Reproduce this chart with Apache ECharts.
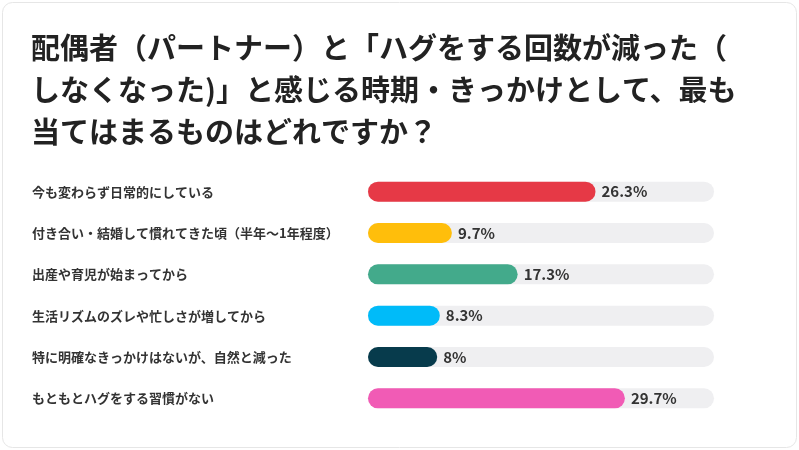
<!DOCTYPE html>
<html>
<head>
<meta charset="utf-8">
<script src="https://cdn.jsdelivr.net/npm/echarts@6/dist/echarts.min.js"></script>
<style>
  html, body { margin: 0; padding: 0; background: #fff; }
  #chart { width: 799px; height: 450px; }
</style>
</head>
<body>
<div id="chart"></div>
<script>
var titleText = '配偶者（パートナー）と「ハグをする回数が減った（\nしなくなった)」と感じる時期・きっかけとして、最も\n当てはまるものはどれですか？';
var categories = [
  '今も変わらず日常的にしている',
  '付き合い・結婚して慣れてきた頃（半年〜1年程度）',
  '出産や育児が始まってから',
  '生活リズムのズレや忙しさが増してから',
  '特に明確なきっかけはないが、自然と減った',
  'もともとハグをする習慣がない'
];
var values = [26.3, 9.7, 17.3, 8.3, 8, 29.7];
var palette = ['#E63946', '#FFBE0B', '#43AA8B', '#00BBF9', '#073B4C', '#F15BB5'];

var font = '"Noto Sans CJK JP", "Noto Sans", sans-serif';
var myChart = echarts.init(document.getElementById('chart'));

var barData = [];
for (var i = 0; i < values.length; i++) {
  barData.push({ value: values[i], itemStyle: { color: palette[i] } });
}

var option = {
  backgroundColor: '#fff',
  animation: false,
  graphic: [{
    type: 'rect',
    shape: { x: 2.5, y: 2.5, width: 794, height: 445, r: 10 },
    style: { fill: '#fff', stroke: '#e6e6e6', lineWidth: 1 },
    z: -10
  }],
  title: {
    text: titleText,
    left: 26,
    top: 22,
    textStyle: {
      fontFamily: font,
      fontSize: 29,
      fontWeight: 'bold',
      lineHeight: 42,
      color: '#222'
    }
  },
  grid: { left: 368, right: 85, top: 171, bottom: 31 },
  xAxis: {
    type: 'value',
    min: 0,
    max: 40,
    show: false
  },
  yAxis: {
    type: 'category',
    inverse: true,
    data: categories,
    axisLine: { show: false },
    axisTick: { show: false },
    axisLabel: {
      align: 'left',
      margin: 336,
      fontFamily: font,
      fontSize: 13,
      fontWeight: 'bold',
      color: '#333'
    }
  },
  series: [{
    type: 'bar',
    data: barData,
    barWidth: 20,
    itemStyle: { borderRadius: 10 },
    showBackground: true,
    backgroundStyle: { color: '#efeff1', borderRadius: 10 },
    label: {
      show: true,
      position: 'right',
      distance: 6,
      fontFamily: font,
      fontSize: 15,
      fontWeight: 'bold',
      color: '#333',
      formatter: function(p) { return p.value + '%'; }
    }
  }]
};

myChart.setOption(option);
</script>
</body>
</html>
